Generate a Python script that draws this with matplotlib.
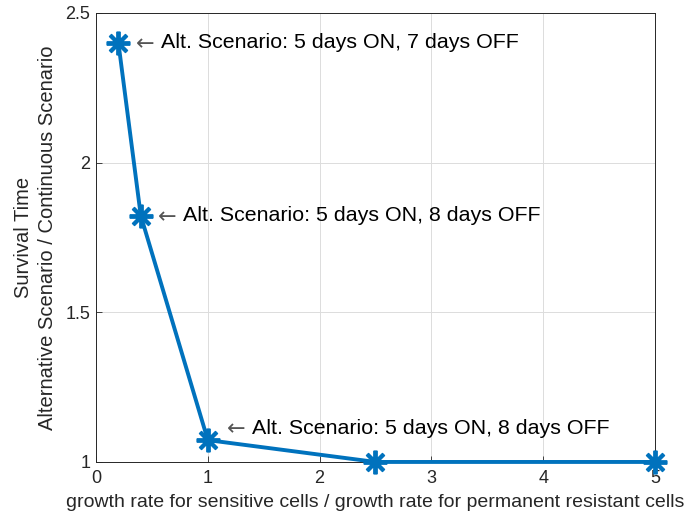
import matplotlib
matplotlib.use("Agg")
import matplotlib.pyplot as plt

plt.rcParams["font.family"] = ["Liberation Sans", "DejaVu Sans"]
plt.rcParams["mathtext.fontset"] = "dejavusans"

# ratio of growth rates vs survival-time ratio
growth_ratio = [0.2, 0.4, 1.0, 2.5, 5.0]
survival_ratio = [2.4, 1.823, 1.073, 1.0, 1.0]

notes = [
    "Alt. Scenario: 5 days ON, 7 days OFF",
    "Alt. Scenario: 5 days ON, 8 days OFF",
    "Alt. Scenario: 5 days ON, 8 days OFF",
]
note_x = [0.315, 0.51, 1.125]
note_y = [2.4, 1.823, 1.113]

BLUE = "#0072BD"
TXT = "#262626"

fig = plt.figure(figsize=(6.96, 5.15), dpi=100)
ax = fig.add_axes([0.138, 0.103, 0.803, 0.872])

ax.plot(growth_ratio, survival_ratio, color=BLUE, lw=2.8, clip_on=False, zorder=3,
        marker=(8, 2, 0), ms=17, mew=2.8, mec=BLUE)

for t, x, y in zip(notes, note_x, note_y):
    ax.text(x, y, r"$\leftarrow$", fontsize=16, va="center", ha="left", color="#555555")
    ax.annotate(t, (x, y), xytext=(21.5, 0), textcoords="offset points",
                fontsize=15.4, va="center", ha="left", color="black")

ax.set_xlim(0, 5)
ax.set_ylim(1, 2.5)
ax.set_xticks([0, 1, 2, 3, 4, 5])
ax.set_yticks([1, 1.5, 2, 2.5])
ax.set_yticklabels(["1", "1.5", "2", "2.5"])
ax.grid(True, color="#dcdcdc", lw=0.7)
ax.set_axisbelow(True)
ax.tick_params(direction="in", labelsize=13, colors=TXT, length=4, width=0.6)
ax.tick_params(axis="y", pad=4)
ax.tick_params(axis="x", pad=6)
for s in ax.spines.values():
    s.set_linewidth(0.7)
    s.set_color(TXT)

ax.set_xlabel("growth rate for sensitive cells / growth rate for permanent resistant cells",
              fontsize=14, color=TXT, labelpad=5)
ax.set_ylabel("Survival Time\nAlternative Scenario / Continuous Scenario",
              fontsize=14.5, color=TXT, labelpad=6, linespacing=1.35)

fig.savefig("out.png", dpi=100)
